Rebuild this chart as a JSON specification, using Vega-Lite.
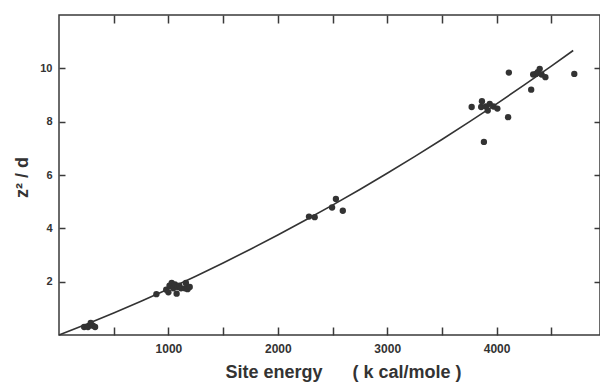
{
  "$schema": "https://vega.github.io/schema/vega-lite/v6.json",
  "width": 541,
  "height": 320,
  "autosize": {"type": "none"},
  "padding": {"left": 59, "top": 15, "right": 0, "bottom": 49},
  "background": "white",
  "config": {
    "view": {"stroke": "#3a3a3a", "strokeWidth": 1.5},
    "font": "Liberation Sans",
    "axis": {"grid": false, "domain": false, "tickColor": "#3a3a3a", "tickWidth": 1.5, "labelColor": "#333", "titleColor": "#333", "labelFont": "Liberation Sans", "titleFont": "Liberation Sans"}
  },
  "layer": [
    {
      "data": {"values": [
        {"energy": 0, "z2d": 0}, {"energy": 250, "z2d": 0.405}, {"energy": 500, "z2d": 0.828},
        {"energy": 750, "z2d": 1.269}, {"energy": 1000, "z2d": 1.728}, {"energy": 1250, "z2d": 2.206},
        {"energy": 1500, "z2d": 2.702}, {"energy": 1750, "z2d": 3.217}, {"energy": 2000, "z2d": 3.75},
        {"energy": 2250, "z2d": 4.301}, {"energy": 2500, "z2d": 4.87}, {"energy": 2750, "z2d": 5.458},
        {"energy": 3000, "z2d": 6.064}, {"energy": 3250, "z2d": 6.688}, {"energy": 3500, "z2d": 7.33},
        {"energy": 3750, "z2d": 7.991}, {"energy": 4000, "z2d": 8.67}, {"energy": 4250, "z2d": 9.368},
        {"energy": 4500, "z2d": 10.084}, {"energy": 4700, "z2d": 10.669}
      ]},
      "mark": {"type": "line", "color": "#333", "strokeWidth": 1.6, "interpolate": "monotone"},
      "encoding": {
        "x": {"field": "energy", "type": "quantitative", "scale": {"domain": [0, 4945], "nice": false, "zero": false},
          "axis": {"orient": "bottom", "values": [500, 1000, 1500, 2000, 2500, 3000, 3500, 4000, 4500],
            "labelExpr": "datum.value % 1000 == 0 ? datum.value : ''", "tickSize": -8, "labelPadding": 16,
            "labelFontSize": 12, "labelFontWeight": "bold",
            "title": "Site energy\u00a0\u00a0\u00a0\u00a0\u00a0\u00a0(\u00a0k cal/mole\u00a0)", "titleFontSize": 18, "titleFontWeight": "bold",
            "titleX": 284, "titleY": 37, "titleBaseline": "middle", "titleAnchor": "middle", "titleAlign": "center"}},
        "y": {"field": "z2d", "type": "quantitative", "scale": {"domain": [0, 12], "nice": false},
          "axis": {"orient": "left", "values": [2, 4, 6, 8, 10], "tickSize": -6, "labelPadding": 13,
            "labelFontSize": 11, "labelFontWeight": "bold",
            "title": "z\u00b2 / d", "titleFontSize": 18, "titleFontWeight": "bold",
            "titleX": -37, "titleY": 162, "titleBaseline": "middle", "titleAnchor": "middle", "titleAlign": "center", "titleAngle": 270}}
      }
    },
    {
      "data": {"values": [
        {"energy": 230, "z2d": 0.3}, {"energy": 265, "z2d": 0.3}, {"energy": 290, "z2d": 0.45},
        {"energy": 310, "z2d": 0.35}, {"energy": 330, "z2d": 0.3},
        {"energy": 890, "z2d": 1.53}, {"energy": 980, "z2d": 1.7}, {"energy": 1000, "z2d": 1.6},
        {"energy": 1010, "z2d": 1.85}, {"energy": 1030, "z2d": 1.95}, {"energy": 1045, "z2d": 1.75},
        {"energy": 1060, "z2d": 1.9}, {"energy": 1075, "z2d": 1.55}, {"energy": 1085, "z2d": 1.8},
        {"energy": 1100, "z2d": 1.85}, {"energy": 1115, "z2d": 1.75}, {"energy": 1150, "z2d": 1.75},
        {"energy": 1160, "z2d": 1.95}, {"energy": 1175, "z2d": 1.72}, {"energy": 1195, "z2d": 1.8},
        {"energy": 2285, "z2d": 4.44}, {"energy": 2337, "z2d": 4.42}, {"energy": 2496, "z2d": 4.78},
        {"energy": 2531, "z2d": 5.1}, {"energy": 2594, "z2d": 4.66},
        {"energy": 3772, "z2d": 8.55}, {"energy": 3859, "z2d": 8.55}, {"energy": 3866, "z2d": 8.77},
        {"energy": 3902, "z2d": 8.57}, {"energy": 3919, "z2d": 8.42}, {"energy": 3884, "z2d": 7.24},
        {"energy": 3937, "z2d": 8.67}, {"energy": 3972, "z2d": 8.57}, {"energy": 4007, "z2d": 8.49},
        {"energy": 4112, "z2d": 9.84}, {"energy": 4105, "z2d": 8.17},
        {"energy": 4316, "z2d": 9.2}, {"energy": 4334, "z2d": 9.77}, {"energy": 4359, "z2d": 9.79},
        {"energy": 4376, "z2d": 9.86}, {"energy": 4394, "z2d": 9.98}, {"energy": 4411, "z2d": 9.77},
        {"energy": 4446, "z2d": 9.67}, {"energy": 4710, "z2d": 9.79}
      ]},
      "mark": {"type": "circle", "color": "#333", "opacity": 1, "size": 40},
      "encoding": {
        "x": {"field": "energy", "type": "quantitative",
          "axis": {"orient": "top", "values": [500, 1000, 1500, 2000, 2500, 3000, 3500, 4000, 4500], "labels": false, "tickSize": -8, "title": null}},
        "y": {"field": "z2d", "type": "quantitative",
          "axis": {"orient": "right", "values": [2, 4, 6, 8, 10], "labels": false, "tickSize": -6, "title": null}}
      }
    }
  ],
  "resolve": {"axis": {"x": "independent", "y": "independent"}}
}
